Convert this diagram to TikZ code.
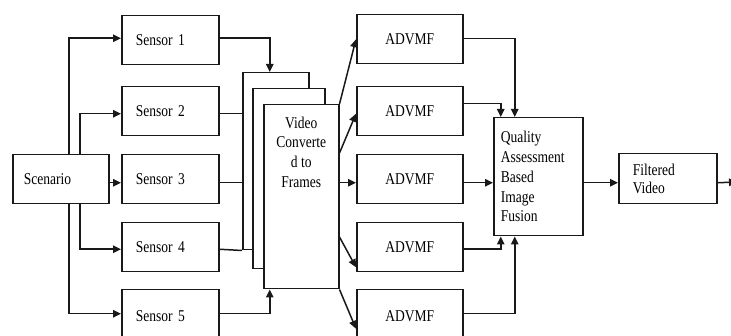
\documentclass[tikz,border=0pt]{standalone}
\usepackage{fontspec}
\setmainfont{Liberation Serif}[FakeStretch=0.82]
\usetikzlibrary{arrows.meta,calc}
\begin{document}
\begin{tikzpicture}[x=1pt,y=-1pt,
  every node/.style={font=\fontsize{16.5}{19.5}\selectfont, text=black},
  box/.style={draw=black!90, line width=1.5pt, fill=white, anchor=north west, inner sep=0pt, minimum height=49pt},
  sensorbox/.style={box, minimum width=97pt, text width=69pt, align=left},
  advmfbox/.style={box, minimum width=106pt, align=center},
  frame/.style={box},
  ln/.style={draw=black!90, line width=1.5pt},
  arr/.style={ln, -{Triangle[length=8pt,width=7.5pt]}}]
\useasboundingbox (0,0) rectangle (731,336);
\clip (0,0) rectangle (731,336);

% nodes
\node[box, minimum width=96pt, text width=74pt, align=left] (scen) at (12,154) {Scenario};
\node[sensorbox] (s1) at (121,15) {Sensor 1};
\node[sensorbox] (s2) at (121,86) {Sensor 2};
\node[sensorbox] (s3) at (121,154) {Sensor 3};
\node[sensorbox] (s4) at (121,222) {Sensor 4};
\node[sensorbox, minimum height=52pt] (s5) at (121,289) {Sensor 5};

\node[frame, minimum width=66pt, minimum height=177pt] (vb) at (242,72) {};
\node[frame, minimum width=72pt, minimum height=180pt] (vm) at (252,88) {};
\node[frame, minimum width=75pt, minimum height=184pt,
  label={[anchor=north, inner sep=0pt, yshift=-12.5pt, align=center, font=\fontsize{16.5}{19.7}\selectfont]north:{Video\\Converte\\d to\\Frames}}] (vf) at (263,104) {};

\node[advmfbox] (a1) at (356,14) {ADVMF};
\node[advmfbox] (a2) at (356,86) {ADVMF};
\node[advmfbox] (a3) at (356,154) {ADVMF};
\node[advmfbox] (a4) at (356,222) {ADVMF};
\node[advmfbox, minimum height=52pt] (a5) at (356,289) {ADVMF};

\node[box, minimum width=89pt, minimum height=118pt, text width=75pt, align=left,
  font=\fontsize{16.5}{19.7}\selectfont] (q) at (493,117) {Quality\\Assessment\\Based\\Image\\Fusion};
\node[box, minimum width=98pt, minimum height=50pt, text width=70pt, align=left,
  font=\fontsize{16.5}{18}\selectfont] (fv) at (618,153) {Filtered\\Video};

% scenario -> sensors
\draw[arr] ($(scen.north)+(8,0)$) |- ($(s1.west)+(0,-2)$);
\draw[arr] ($(scen.north)+(19,0)$) |- ($(s2.west)+(0,2.5)$);
\draw[arr] ($(scen.east)+(0,3.5)$) -- ($(s3.west)+(0,3.5)$);
\draw[arr] ($(scen.south)+(19,0)$) |- ($(s4.west)+(0,2)$);
\draw[arr] ($(scen.south)+(8,0)$) |- ($(s5.west)+(0,-2)$);

% sensors -> video frames
\draw[arr] ($(s1.east)+(0,-2)$) -| ($(vb.north)+(-6,0)$);
\path ($(s2.east)+(0,2.5)$) coordinate (s2o);
\draw[ln] (s2o) -- (s2o -| vb.west);
\path ($(s3.east)+(0,3.5)$) coordinate (s3o);
\draw[ln] (s3o) -- (s3o -| vb.west);
\draw[ln] ($(s4.east)+(0,2)$) -- (vb.south west);
\draw[arr] ($(s5.east)+(0,-2)$) -| ($(vf.south)+(-31.5,0)$);

% video -> ADVMF
\draw[arr] (vf.north east) -- (a1.west);
\draw[arr] ($(vf.north east)+(0,49)$) -- ($(a2.west)+(0,2.5)$);
\path ($(a3.west)+(0,3.5)$) coordinate (a3in);
\draw[arr] (vf.east |- a3in) -- (a3in);
\draw[arr] ($(vf.north east)+(0,133)$) -- ($(a4.west)+(0,20)$);
\draw[arr] (vf.south east) -- ($(a5.west)+(0,13)$);

% ADVMF -> quality
\draw[arr] ($(a1.east)+(0,-0.5)$) -| ($(q.north)+(-23.5,0)$);
\draw[arr] ($(a2.east)+(0,-7.5)$) -| ($(q.north)+(-37.5,0)$);
\path ($(a3.east)+(0,3.5)$) coordinate (a3o);
\draw[arr] (a3o) -- (a3o -| q.west);
\draw[arr] ($(a4.east)+(0,2)$) -| ($(q.south)+(-37.5,0)$);
\draw[arr] ($(a5.east)+(0,-2)$) -| ($(q.south)+(-23.5,0)$);

% quality -> filtered video -> out
\path ($(fv.west)+(0,4)$) coordinate (fvin);
\draw[arr] (q.east |- fvin) -- (fvin);
\path ($(fv.east)+(0,4)$) coordinate (fvo);
\coordinate (out) at (737,182);
\draw[arr] (fvo) -- (out);
\end{tikzpicture}
\end{document}
